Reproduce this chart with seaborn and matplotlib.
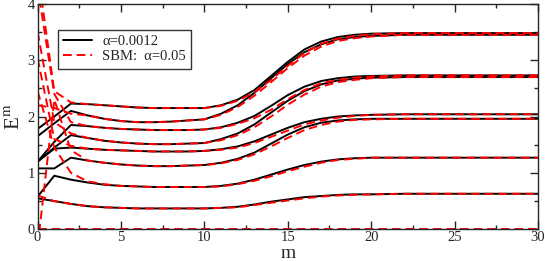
import numpy as np
import pandas as pd
import matplotlib
matplotlib.use('Agg')
import matplotlib.pyplot as plt
import seaborn as sns
from matplotlib.ticker import MultipleLocator
from matplotlib.lines import Line2D

sns.set_style('ticks')
plt.rcParams['font.family'] = ['Liberation Serif', 'DejaVu Serif']
plt.rcParams['mathtext.fontset'] = 'stix'

# m grid (integer steps up to 20, plateau after)
m = [0, 1, 2, 3, 4, 5, 6, 7, 8, 9, 10, 11, 12, 13, 14, 15, 16, 17, 18, 19, 20, 22, 25, 30]

# alpha = 0.0012 (black solid)
black_0 = [0.55, 0.50, 0.45, 0.41, 0.39, 0.38, 0.37, 0.37, 0.37, 0.37, 0.37, 0.38, 0.40, 0.44, 0.49, 0.53, 0.57, 0.59, 0.61, 0.62, 0.62, 0.63, 0.63, 0.63]
black_1 = [0.58, 0.95, 0.88, 0.83, 0.79, 0.77, 0.76, 0.75, 0.75, 0.75, 0.75, 0.77, 0.81, 0.88, 0.97, 1.06, 1.14, 1.20, 1.24, 1.26, 1.27, 1.27, 1.27, 1.27]
black_2 = [1.08, 1.08, 1.27, 1.22, 1.18, 1.15, 1.13, 1.12, 1.12, 1.13, 1.14, 1.18, 1.25, 1.36, 1.52, 1.68, 1.81, 1.89, 1.93, 1.95, 1.96, 1.96, 1.96, 1.96]
black_3 = [1.20, 1.43, 1.45, 1.43, 1.41, 1.40, 1.39, 1.38, 1.38, 1.38, 1.39, 1.42, 1.47, 1.56, 1.68, 1.80, 1.90, 1.96, 2.00, 2.02, 2.03, 2.04, 2.04, 2.04]
black_4 = [1.20, 1.45, 1.67, 1.62, 1.57, 1.54, 1.52, 1.51, 1.51, 1.52, 1.53, 1.60, 1.70, 1.86, 2.07, 2.28, 2.45, 2.57, 2.64, 2.67, 2.69, 2.70, 2.70, 2.70]
black_5 = [1.20, 1.55, 1.85, 1.83, 1.80, 1.78, 1.77, 1.76, 1.76, 1.76, 1.77, 1.81, 1.89, 2.01, 2.19, 2.38, 2.53, 2.63, 2.68, 2.71, 2.72, 2.73, 2.73, 2.73]
black_6 = [1.65, 1.88, 2.10, 2.02, 1.96, 1.92, 1.90, 1.90, 1.91, 1.93, 1.95, 2.05, 2.20, 2.42, 2.68, 2.93, 3.14, 3.28, 3.37, 3.41, 3.43, 3.45, 3.45, 3.45]
black_7 = [1.78, 2.00, 2.23, 2.22, 2.20, 2.18, 2.16, 2.15, 2.15, 2.15, 2.15, 2.20, 2.30, 2.47, 2.72, 2.97, 3.19, 3.33, 3.41, 3.45, 3.47, 3.48, 3.48, 3.48]

# SBM alpha = 0.05 (red dashed)
red_0 = [0.60, 0.50, 0.45, 0.41, 0.39, 0.38, 0.37, 0.37, 0.37, 0.37, 0.37, 0.38, 0.39, 0.43, 0.47, 0.51, 0.55, 0.58, 0.60, 0.61, 0.62, 0.63, 0.63, 0.63]
red_1 = [2.45, 1.45, 1.00, 0.85, 0.80, 0.77, 0.76, 0.75, 0.75, 0.75, 0.75, 0.76, 0.80, 0.86, 0.94, 1.03, 1.11, 1.18, 1.23, 1.25, 1.27, 1.27, 1.27, 1.27]
red_2 = [-0.30, 2.30, 1.40, 1.22, 1.18, 1.15, 1.13, 1.12, 1.12, 1.13, 1.14, 1.17, 1.23, 1.33, 1.47, 1.62, 1.76, 1.85, 1.91, 1.94, 1.95, 1.96, 1.96, 1.96]
red_3 = [3.03, 1.60, 1.48, 1.43, 1.41, 1.40, 1.39, 1.38, 1.38, 1.38, 1.39, 1.41, 1.45, 1.53, 1.64, 1.75, 1.86, 1.93, 1.98, 2.01, 2.03, 2.04, 2.04, 2.04]
red_4 = [3.50, 1.90, 1.70, 1.62, 1.57, 1.54, 1.52, 1.51, 1.51, 1.52, 1.53, 1.58, 1.67, 1.81, 2.00, 2.21, 2.39, 2.53, 2.61, 2.65, 2.68, 2.70, 2.70, 2.70]
red_5 = [4.30, 2.40, 1.90, 1.83, 1.80, 1.78, 1.77, 1.76, 1.76, 1.76, 1.77, 1.80, 1.87, 1.97, 2.12, 2.31, 2.47, 2.59, 2.65, 2.69, 2.71, 2.73, 2.73, 2.73]
red_6 = [2.20, 2.15, 2.05, 2.02, 1.96, 1.92, 1.90, 1.90, 1.91, 1.93, 1.95, 2.03, 2.17, 2.37, 2.61, 2.86, 3.08, 3.24, 3.34, 3.39, 3.42, 3.45, 3.45, 3.45]
red_7 = [4.60, 2.45, 2.25, 2.22, 2.20, 2.18, 2.16, 2.15, 2.15, 2.15, 2.15, 2.19, 2.28, 2.43, 2.65, 2.90, 3.13, 3.29, 3.38, 3.43, 3.46, 3.48, 3.48, 3.48]
red_zero_m = [0, 30]
red_zero = [0.0, 0.0]

black = [black_0, black_1, black_2, black_3, black_4, black_5, black_6, black_7]
red = [red_0, red_1, red_2, red_3, red_4, red_5, red_6, red_7]

fig = plt.figure(figsize=(5.45, 2.61), dpi=100)
ax = fig.add_axes([0.069, 0.1215, 0.918, 0.864])

for y in black:
    sns.lineplot(x=m, y=y, ax=ax, color='black', lw=1.4, estimator=None, sort=False)
for y in red:
    sns.lineplot(x=m, y=y, ax=ax, color='#ff0000', lw=1.4, estimator=None, sort=False,
                 linestyle=(0, (4.5, 2.5)))
sns.lineplot(x=red_zero_m, y=red_zero, ax=ax, color='#ff0000', lw=1.4, estimator=None,
             linestyle=(0, (4.5, 2.5)))

ax.set_xlim(0, 30)
ax.set_ylim(0, 4)
ax.xaxis.set_major_locator(MultipleLocator(5))
ax.xaxis.set_minor_locator(MultipleLocator(2.5))
ax.yaxis.set_major_locator(MultipleLocator(1))
ax.yaxis.set_minor_locator(MultipleLocator(0.5))
ax.tick_params(which='both', direction='in', top=True, right=True, labelsize=10.5)
ax.tick_params(axis='x', pad=1)
ax.tick_params(axis='y', pad=2)
ax.tick_params(which='major', length=6, width=1)
ax.tick_params(which='minor', length=3, width=1)
for s in ax.spines.values():
    s.set_linewidth(1.0)

ax.set_xlabel('m', fontsize=14)
ax.xaxis.set_label_coords(0.5, -0.07)
ax.set_ylabel(r'E$^{\rm m}$', fontsize=15, labelpad=2)

handles = [Line2D([], [], color='black', lw=1.4),
           Line2D([], [], color='#ff0000', lw=1.4, linestyle=(0, (4.5, 2.5)))]
leg = ax.legend(handles, ['α=0.0012', 'SBM:  α=0.05'],
                loc='upper left', bbox_to_anchor=(0.04, 0.885), fontsize=10.5,
                frameon=True, fancybox=False, handlelength=2.0, borderpad=0.35,
                labelspacing=0.15, handletextpad=0.7, borderaxespad=0)
leg.get_frame().set_edgecolor('black')
leg.get_frame().set_linewidth(1.0)

fig.savefig('out.png', dpi=100)
